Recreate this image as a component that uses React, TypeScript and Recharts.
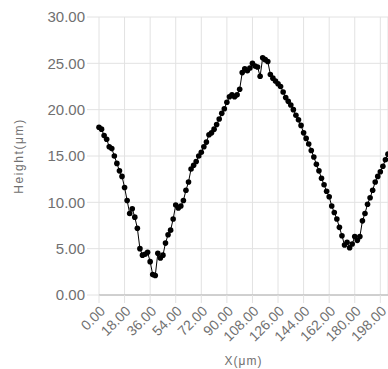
import React from "react";
import { LineChart, Line, XAxis, YAxis, CartesianGrid, Label } from "recharts";

const xValues: number[] = [
  0, 1.8, 3.6, 5.4, 7.2, 9.0, 10.8, 12.6, 14.4, 16.2, 18.0, 19.8, 21.6, 23.4, 25.2, 27.0, 28.8, 30.6, 32.4, 34.2,
  36.0, 37.8, 39.6, 41.4, 43.2, 45.0, 46.8, 48.6, 50.4, 52.2, 54.0, 55.8, 57.6, 59.4, 61.2, 63.0, 64.8, 66.6, 68.4, 70.2,
  72.0, 73.8, 75.6, 77.4, 79.2, 81.0, 82.8, 84.6, 86.4, 88.2, 90.0, 91.8, 93.6, 95.4, 97.2, 99.0, 100.8, 102.6, 104.4, 106.2,
  108.0, 109.8, 111.6, 113.4, 115.2, 117.0, 118.8, 120.6, 122.4, 124.2, 126.0, 127.8, 129.6, 131.4, 133.2, 135.0, 136.8, 138.6, 140.4, 142.2,
  144.0, 145.8, 147.6, 149.4, 151.2, 153.0, 154.8, 156.6, 158.4, 160.2, 162.0, 163.8, 165.6, 167.4, 169.2, 171.0, 172.8, 174.6, 176.4, 178.2,
  180.0, 181.8, 183.6, 185.4, 187.2, 189.0, 190.8, 192.6, 194.4, 196.2, 198.0, 199.8, 201.6, 203.4,
];

const heightValues: number[] = [
  18.1, 17.9, 17.2, 16.8, 16.0, 15.8, 15.0, 14.2, 13.4, 12.8, 11.6, 10.2, 8.8, 9.3, 8.4, 7.2, 5.0, 4.3, 4.4, 4.6,
  3.6, 2.2, 2.1, 4.5, 4.0, 4.3, 5.6, 6.5, 7.0, 8.2, 9.7, 9.4, 9.6, 10.2, 11.3, 12.2, 13.6, 14.0, 14.4, 15.0,
  15.4, 16.0, 16.5, 17.3, 17.5, 17.9, 18.4, 19.0, 19.6, 20.1, 20.8, 21.4, 21.6, 21.4, 21.6, 22.2, 24.0, 24.4, 24.2, 24.5,
  25.0, 24.7, 24.6, 23.6, 25.6, 25.4, 25.2, 23.8, 23.4, 23.1, 22.8, 22.5, 21.9, 21.3, 20.9, 20.5, 20.0, 19.4, 18.9, 18.3,
  17.5, 16.9, 16.3, 15.6, 14.9, 14.1, 13.4, 12.6, 11.9, 11.2, 10.6, 9.6, 8.9, 8.2, 7.3, 6.4, 5.4, 5.7, 5.1, 5.5,
  6.3, 5.9, 6.3, 8.0, 8.8, 9.8, 10.5, 11.3, 12.2, 12.8, 13.3, 13.9, 14.6, 15.2,
];

const xTicks: number[] = [0, 18, 36, 54, 72, 90, 108, 126, 144, 162, 180, 198];
const yTicks: number[] = [0, 5, 10, 15, 20, 25, 30];

const data = xValues.map((x, i) => ({ x, h: heightValues[i] }));

const FONT = "Arial, 'Liberation Sans', Helvetica, sans-serif";
const TEXT = "#707070";
const GRID = "#e2e2e2";

const YLabel = (props: any) => {
  const vb = props.viewBox || {};
  const cx = (vb.x || 0) + 11;
  const cy = (vb.y || 0) + (vb.height || 0) / 2;
  return (
    <text
      x={cx}
      y={cy}
      transform={`rotate(-90, ${cx}, ${cy})`}
      textAnchor="middle"
      dominantBaseline="central"
      fill={TEXT}
      fontFamily={FONT}
      fontSize={12}
      letterSpacing={1.6}
    >
      Height(μm)
    </text>
  );
};

export default function App() {
  return (
    <div style={{ position: "absolute", left: 8, top: 8, width: 380, height: 361, overflow: "hidden" }}>
      <LineChart width={380} height={361} data={data} margin={{ top: 9, right: 0, bottom: 0, left: 0 }}>
        <CartesianGrid stroke={GRID} strokeWidth={1} />
        <XAxis
          dataKey="x"
          type="number"
          domain={[0, 203.4]}
          ticks={xTicks}
          interval={0}
          height={74}
          tickFormatter={(v: number) => v.toFixed(2)}
          tick={{ fill: TEXT, fontSize: 14, fontFamily: FONT, angle: -45, textAnchor: "end" } as any}
          tickSize={8}
          tickMargin={2}
          tickLine={{ stroke: GRID }}
          axisLine={{ stroke: "#c4c4c4", strokeWidth: 1.5 }}
        >
          <Label
            value="X(μm)"
            position="insideBottom"
            offset={4}
            style={{ fill: TEXT, fontSize: 12, fontFamily: FONT, letterSpacing: 1 }}
          />
        </XAxis>
        <YAxis
          type="number"
          domain={[0, 30]}
          ticks={yTicks}
          interval={0}
          width={91}
          tickFormatter={(v: number) => v.toFixed(2)}
          tick={{ fill: TEXT, fontSize: 15, fontFamily: FONT }}
          tickSize={12}
          tickMargin={2}
          tickLine={{ stroke: GRID }}
          axisLine={false}
          label={<YLabel />}
        />
        <Line
          type="linear"
          dataKey="h"
          stroke="#000"
          strokeWidth={1}
          dot={{ r: 2.8, fill: "#000", stroke: "none" }}
          activeDot={false}
          isAnimationActive={false}
        />
      </LineChart>
    </div>
  );
}
